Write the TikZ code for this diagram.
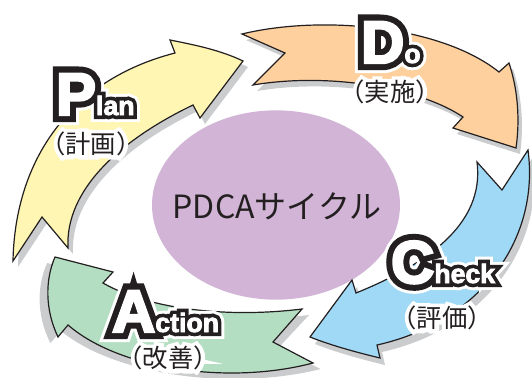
\documentclass[tikz,border=0pt]{standalone}
\usepackage{fontspec}
\usetikzlibrary{shapes.geometric}
\setmainfont{Liberation Sans}
\newfontfamily\bigH{Liberation Sans Bold}[FakeBold=34]
\newfontfamily\bigS{Liberation Sans Bold}[FakeBold=24]
\newfontfamily\bigW{Liberation Sans Bold}[FakeBold=4]
\newfontfamily\smH{Liberation Sans Bold}[FakeBold=52]
\newfontfamily\smS{Liberation Sans Bold}[FakeBold=30]
\newfontfamily\smW{Liberation Sans Bold}[FakeBold=3]
\newfontfamily\cjkH{Noto Sans CJK JP}[FakeBold=32]
\newfontfamily\cjk{Noto Sans CJK JP}
\definecolor{edge}{HTML}{231F20}
\definecolor{shadowgray}{HTML}{CBCCCE}
\definecolor{planfill}{HTML}{FFF6B3}
\definecolor{dofill}{HTML}{FDD09D}
\definecolor{checkfill}{HTML}{9FD9F6}
\definecolor{actfill}{HTML}{B3DEC1}
\definecolor{ellfill}{HTML}{D1B4D6}
\newcommand\BigSz{\fontsize{45}{45}\selectfont}
\newcommand\SmSz{\fontsize{20}{20}\selectfont}
\newcommand\CjSz{\fontsize{19}{19}\selectfont}
\newcommand\stagelabel[4]{%
  \node[lbl, text=white] (#1h) at #2 {\bigH\BigSz #3\smH\SmSz #4};
  \node[lbl, text=edge] (#1s) at #2 {\bigS\BigSz #3\smS\SmSz #4};
  \node[lbl, text=white] (#1) at #2 {\bigW\BigSz #3\smW\SmSz #4};
}
\newcommand\cjklabel[3]{%
  \node[cjl, text=white] (#1h) at #2 {\cjkH\CjSz #3};
  \node[cjl, text=edge] (#1) at #2 {\cjk\CjSz #3};
}
\def\planpath{(13,261) .. controls (15,160) and (70,80) .. (175,53) -- (170,40) .. controls (195,45) and (220,50) .. (243,61) -- (200,118) -- (193,105) .. controls (120,140) and (65,190) .. (68,248) -- (42,217) -- cycle}
\def\dopath{(242,34) .. controls (320,15) and (440,25) .. (499,72) -- (509,63) .. controls (518,90) and (520,120) .. (516,148) -- (453,128) -- (463,117) .. controls (420,88) and (330,72) .. (253,85) -- (285,53) -- cycle}
\def\checkpath{(528,150) .. controls (540,240) and (480,322) .. (377,345) -- (380,358) .. controls (355,352) and (330,345) .. (310,337) -- (352,280) -- (356,293) .. controls (425,265) and (485,225) .. (477,162) -- (502,190) -- cycle}
\def\actpath{(313,363) .. controls (230,385) and (120,370) .. (68,325) -- (58,337) .. controls (45,310) and (45,280) .. (55,257) -- (113,272) -- (103,283) .. controls (150,310) and (230,318) .. (302,309) -- (273,342) -- cycle}
\begin{document}
\begin{tikzpicture}[x=0.75pt,y=-0.75pt,
  arrowshape/.style={draw=edge, line width=0.9pt, line join=miter},
  lbl/.style={anchor=base west, inner sep=0pt, outer sep=0pt},
  cjl/.style={anchor=center, inner sep=0pt, outer sep=0pt}]
\useasboundingbox (0,0) rectangle (532,378);
% ellipse
\node[ellipse, fill=ellfill, minimum width=186pt, minimum height=142pt, inner sep=0pt] (ell) at (276,205) {};
% shadows
\fill[shadowgray, shift={(5,6)}] \planpath;
\fill[shadowgray, shift={(4,6)}] \dopath;
\fill[shadowgray, shift={(5,7)}] \checkpath;
\fill[shadowgray, shift={(185,6)}, xscale=1.06, shift={(-185,0)}] \actpath;
% arrows
\filldraw[arrowshape, fill=planfill] \planpath;
\filldraw[arrowshape, fill=dofill] \dopath;
\filldraw[arrowshape, fill=checkfill] \checkpath;
\filldraw[arrowshape, fill=actfill] \actpath;
% centre text
\node[text=edge, inner sep=0pt] (title) at (277,206) {\cjk\fontsize{24}{24}\selectfont PDCAサイクル};
% labels
\cjklabel{plancj}{(91,144)}{（計画）}
\cjklabel{docj}{(390,92)}{（実施）}
\cjklabel{checkcj}{(442,318)}{（評価）}
\cjklabel{actcj}{(168,358)}{（改善）}
\stagelabel{plan}{(56,115)}{P}{lan}
\stagelabel{do}{(361,63)}{D}{o}
\stagelabel{check}{(391,283)}{C}{heck}
\stagelabel{act}{(112,332)}{A}{ction}
\end{tikzpicture}
\end{document}
